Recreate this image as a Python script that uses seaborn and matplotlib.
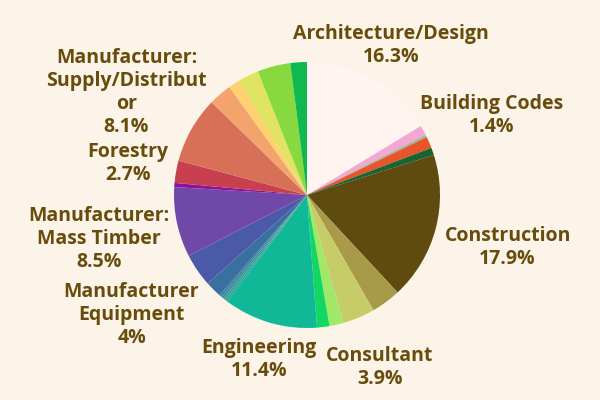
import numpy as np
import matplotlib
matplotlib.use("Agg")
import matplotlib.pyplot as plt
import seaborn as sns

# share of respondents by sector (clockwise from 12 o'clock)
categories = [
    "Architecture/Design", "", "", "Building Codes", "",
    "Construction", "", "Consultant", "", "",
    "Engineering", "", "", "", "",
    "", "Manufacturer\nEquipment", "Manufacturer:\nMass Timber", "",
    "Forestry", "Manufacturer:\nSupply/Distribut\nor", "", "", "", "", "",
]
shares = [
    16.3, 1.2, 0.3, 1.4, 0.9,
    17.9, 3.6, 3.9, 1.7, 1.5,
    11.4, 0.3, 0.3, 0.3, 0.3,
    2.0, 4.0, 8.5, 0.5,
    2.7, 8.1, 2.8, 1.4, 2.5, 4.0, 2.0,
]
colors = [
    "#fff4f0", "#f3a8d4", "#9fb5a5", "#e8552a", "#1a6432",
    "#5f4a10", "#a89a48", "#c6cd68", "#a0e868", "#12d862",
    "#10b898", "#30a89a", "#3c9c9e", "#3a8ea0", "#3a84a0",
    "#3a70a0", "#4a5aa8", "#7049a8", "#8e12a0",
    "#c8404f", "#d87058", "#f2a46c", "#ffd170", "#e0e462", "#88d840", "#10b850",
]
# how far each shown label sits from the centre, in pie radii
label_dist = {
    "Architecture/Design": 1.29, "Building Codes": 1.51, "Construction": 1.56,
    "Consultant": 1.41, "Engineering": 1.29, "Manufacturer\nEquipment": 1.60,
    "Manufacturer:\nMass Timber": 1.60, "Forestry": 1.37,
    "Manufacturer:\nSupply/Distribut\nor": 1.56,
}

BG = "#fcf4e8"
TXT = "#674c0c"

sns.set_theme(style="white", rc={"figure.facecolor": BG, "axes.facecolor": BG})
plt.rcParams["font.family"] = ["Open Sans", "DejaVu Sans"]

fig = plt.figure(figsize=(6, 4), dpi=100)
ax = fig.add_axes([0, 0, 1, 1])

R = 133.0  # pie radius in pixels
cx, cy = 307.0, 195.0
wedges, _ = ax.pie(shares, colors=colors, startangle=90, counterclock=False,
                   wedgeprops={"linewidth": 0})

ax.set_xlim(-cx / R, (600 - cx) / R)
ax.set_ylim(-(400 - cy) / R, cy / R)
ax.set_aspect("auto")
ax.axis("off")

for w, name, v in zip(wedges, categories, shares):
    if not name:
        continue
    mid = np.deg2rad((w.theta1 + w.theta2) / 2)
    d = label_dist[name]
    ax.text(d * np.cos(mid), d * np.sin(mid), f"{name}\n{v:g}%",
            ha="center", va="center", multialignment="center",
            fontsize=14, fontweight="bold", color=TXT, linespacing=1.2)

fig.savefig("out.png", dpi=100, facecolor=BG)
